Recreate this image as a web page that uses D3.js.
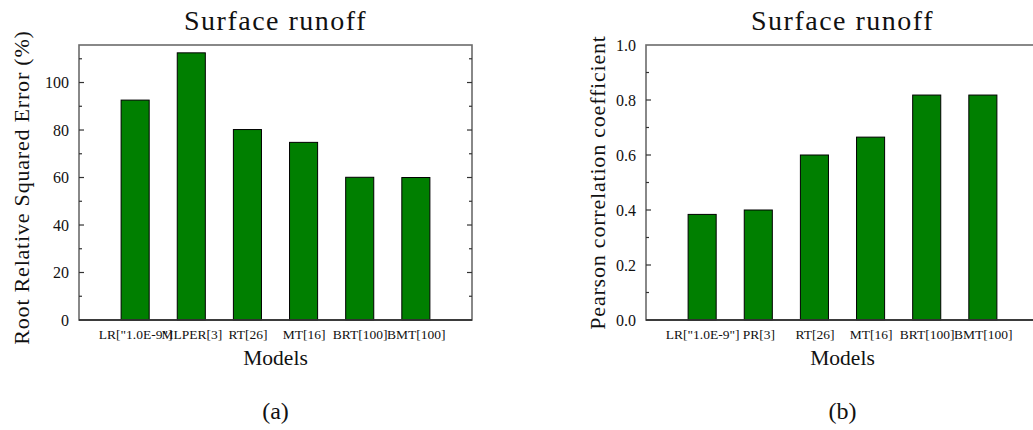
<!DOCTYPE html>
<html>
<head>
<meta charset="utf-8">
<script src="https://cdn.jsdelivr.net/npm/d3@7"></script>
<style>
  html, body { margin: 0; padding: 0; background: #fff; }
  svg text { font-family: "Liberation Serif", "DejaVu Serif", serif; fill: #111; }
</style>
</head>
<body>
<svg id="chart" width="1033" height="430"></svg>
<script>
// Model labels for each panel
const modelsRRSE = ['LR["1.0E-9"]', "MLPER[3]", "RT[26]", "MT[16]", "BRT[100]", "BMT[100]"];
const modelsPCC  = ['LR["1.0E-9"]', "PR[3]", "RT[26]", "MT[16]", "BRT[100]", "BMT[100]"];

// Root relative squared error (%) per model
const rrseValues = [92.6, 112.5, 80.2, 74.8, 60.1, 60.0];
// Pearson correlation coefficient per model
const pccValues = [0.384, 0.400, 0.600, 0.665, 0.818, 0.818];

// Tick values
const rrseMajorTicks = [0, 20, 40, 60, 80, 100];
const rrseMinorTicks = [10, 30, 50, 70, 90, 110];
const pccMajorTicks = [0.0, 0.2, 0.4, 0.6, 0.8, 1.0];
const pccMinorTicks = [0.1, 0.3, 0.5, 0.7, 0.9];

const svg = d3.select("#chart");

function panel(opts) {
  const { x0, x1, y0, y1, models, values, yMax, major, minor, fmt, yLabel, title, caption } = opts;
  const g = svg.append("g");

  // categories sit at positions 1..n on a 0..n+1 axis
  const x = d3.scaleLinear().domain([0, models.length + 1]).range([x0, x1]);
  const y = d3.scaleLinear().domain([0, yMax]).range([y1, y0]);
  const barW = x(0.5) - x(0);

  // bars
  g.selectAll("rect.bar").data(values).join("rect")
    .attr("class", "bar")
    .attr("x", (d, i) => x(i + 1) - barW / 2)
    .attr("width", barW)
    .attr("y", d => y(d))
    .attr("height", d => y(0) - y(d))
    .attr("fill", "#007f00")
    .attr("stroke", "#000")
    .attr("stroke-width", 1);

  // frame
  g.append("rect")
    .attr("x", x0).attr("y", y0)
    .attr("width", x1 - x0).attr("height", y1 - y0)
    .attr("fill", "none").attr("stroke", "#6b6b6b").attr("stroke-width", 1.6);
  g.append("line").attr("x1", x0).attr("x2", x1).attr("y1", y1).attr("y2", y1)
    .attr("stroke", "#222").attr("stroke-width", 1.4);

  // left axis: labels outside, ticks inside
  const left = d3.axisLeft(y).tickValues(major).tickFormat(fmt).tickSize(0).tickPadding(10);
  const la = g.append("g").attr("transform", `translate(${x0},0)`).call(left);
  la.select(".domain").remove();
  la.selectAll("text").style("font-size", "16px").style("font-family", '"Liberation Serif", serif');

  // inward major/minor ticks on both sides
  const tick = (vals, len) => {
    g.append("g").selectAll("line").data(vals).join("line")
      .attr("x1", x0).attr("x2", x0 + len)
      .attr("y1", d => y(d)).attr("y2", d => y(d))
      .attr("stroke", "#333").attr("stroke-width", 1.2);
    g.append("g").selectAll("line").data(vals).join("line")
      .attr("x1", x1).attr("x2", x1 - len)
      .attr("y1", d => y(d)).attr("y2", d => y(d))
      .attr("stroke", "#333").attr("stroke-width", 1.2);
  };
  tick(major.filter(v => v > 0 && v < yMax), 5);
  tick(minor, 3);

  // category labels
  const bottom = d3.axisBottom(x).tickValues(d3.range(1, models.length + 1))
    .tickFormat(i => models[i - 1]).tickSize(0).tickPadding(9);
  const ba = g.append("g").attr("transform", `translate(0,${y1})`).call(bottom);
  ba.select(".domain").remove();
  ba.selectAll("text").style("font-size", "13.5px").style("font-family", '"Liberation Serif", serif');

  // titles and captions
  const cx = (x0 + x1) / 2;
  g.append("text").attr("x", cx).attr("y", 30).attr("text-anchor", "middle")
    .style("font-size", "28px").style("letter-spacing", "1.5px").text(title);
  g.append("text").attr("x", cx).attr("y", 365).attr("text-anchor", "middle")
    .style("font-size", "21.5px").text("Models");
  g.append("text").attr("x", cx).attr("y", 419).attr("text-anchor", "middle")
    .style("font-size", "24px").text(caption);
  g.append("text")
    .attr("transform", `translate(${opts.yLabelX},${(y0 + y1) / 2 + opts.yLabelShift}) rotate(-90)`)
    .attr("text-anchor", "middle")
    .style("font-size", "22px").style("letter-spacing", "0.8px").text(yLabel);
}

panel({
  x0: 79, x1: 472, y0: 45, y1: 320,
  models: modelsRRSE, values: rrseValues, yMax: 115.8,
  major: rrseMajorTicks, minor: rrseMinorTicks, fmt: d3.format("d"),
  yLabel: "Root Relative Squared Error (%)", yLabelX: 29, yLabelShift: 5,
  title: "Surface runoff", caption: "(a)"
});

panel({
  x0: 646, x1: 1039, y0: 45, y1: 320,
  models: modelsPCC, values: pccValues, yMax: 1.0,
  major: pccMajorTicks, minor: pccMinorTicks, fmt: d3.format(".1f"),
  yLabel: "Pearson correlation coefficient", yLabelX: 605, yLabelShift: 0,
  title: "Surface runoff", caption: "(b)"
});
</script>
</body>
</html>
